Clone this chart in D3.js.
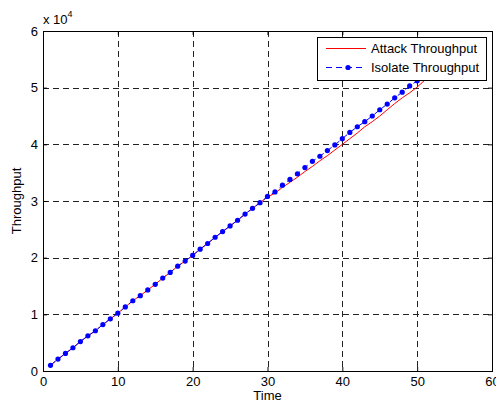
<!DOCTYPE html>
<html lang="en">
<meta charset="UTF-8">
<title>Throughput</title>
<script src="https://cdn.jsdelivr.net/npm/d3@7"></script>
<style>
  body { margin: 0; background: #fff; }
  svg { display: block; font-family: "Liberation Sans", Arial, sans-serif; }
  .grid line { stroke: #222; stroke-dasharray: 6,4; }
</style>
<body>
<svg id="chart" width="496" height="403"></svg>
<script>
// data (values in units of 1e4)
var time = d3.range(1, 52);
var attack = [0.10, 0.21, 0.31, 0.41, 0.52, 0.62, 0.71, 0.82, 0.92, 1.02,
  1.13, 1.24, 1.33, 1.43, 1.53, 1.64, 1.74, 1.85, 1.94, 2.04,
  2.15, 2.25, 2.36, 2.46, 2.56, 2.66, 2.77, 2.87, 2.97, 3.07,
  3.14, 3.24, 3.33, 3.42, 3.52, 3.61, 3.71, 3.80, 3.90, 4.00,
  4.10, 4.20, 4.31, 4.40, 4.50, 4.61, 4.72, 4.82, 4.91, 5.01, 5.13];
var isolate = [0.10, 0.21, 0.31, 0.41, 0.52, 0.62, 0.71, 0.82, 0.92, 1.02,
  1.13, 1.24, 1.33, 1.43, 1.53, 1.64, 1.74, 1.85, 1.94, 2.04,
  2.15, 2.25, 2.36, 2.46, 2.56, 2.66, 2.77, 2.87, 2.97, 3.08,
  3.16, 3.28, 3.38, 3.48, 3.59, 3.70, 3.79, 3.89, 3.99, 4.10,
  4.21, 4.31, 4.40, 4.50, 4.61, 4.71, 4.82, 4.92, 5.03, 5.12];
var xTicks = [0, 10, 20, 30, 40, 50, 60];
var yTicks = [0, 1, 2, 3, 4, 5, 6];
var seriesNames = ["Attack Throughput", "Isolate Throughput"];

var svg = d3.select("#chart");
var pLeft = 43, pRight = 492, pTop = 31, pBottom = 371;

var x = d3.scaleLinear().domain([0, 60]).range([pLeft, pRight]);
var y = d3.scaleLinear().domain([0, 6]).range([pBottom, pTop]);

// grid
var grid = svg.append("g").attr("class", "grid");
grid.selectAll("line.v").data(xTicks.slice(1, -1)).enter().append("line")
    .attr("x1", d => Math.round(x(d)) + 0.5).attr("x2", d => Math.round(x(d)) + 0.5)
    .attr("y1", pTop).attr("y2", pBottom);
grid.selectAll("line.h").data(yTicks.slice(1, -1)).enter().append("line")
    .attr("y1", d => Math.round(y(d)) + 0.5).attr("y2", d => Math.round(y(d)) + 0.5)
    .attr("x1", pLeft).attr("x2", pRight);

// axes (ticks pointing inside, box on)
svg.append("g").attr("transform", `translate(0,${pBottom})`)
    .call(d3.axisBottom(x).tickValues(xTicks).tickSize(-4).tickPadding(6).tickSizeOuter(0))
    .call(g => g.select(".domain").remove());
svg.append("g").attr("transform", `translate(0,${pTop})`)
    .call(d3.axisTop(x).tickValues(xTicks).tickSize(-4).tickFormat("").tickSizeOuter(0))
    .call(g => g.select(".domain").remove());
svg.append("g").attr("transform", `translate(${pLeft},0)`)
    .call(d3.axisLeft(y).tickValues(yTicks).tickFormat(d3.format("d")).tickSize(-4).tickPadding(5).tickSizeOuter(0))
    .call(g => g.select(".domain").remove());
svg.append("g").attr("transform", `translate(${pRight},0)`)
    .call(d3.axisRight(y).tickValues(yTicks).tickSize(-4).tickFormat("").tickSizeOuter(0))
    .call(g => g.select(".domain").remove());
svg.selectAll(".tick text").attr("font-size", 13).attr("font-family", "Liberation Sans, Arial, sans-serif").attr("fill", "#000");

svg.append("rect")
    .attr("x", pLeft + 0.5).attr("y", pTop + 0.5)
    .attr("width", pRight - pLeft).attr("height", pBottom - pTop)
    .attr("fill", "none").attr("stroke", "#000");

// series
var line = d3.line().x(d => x(d[0])).y(d => y(d[1]));
svg.append("path")
    .datum(attack.map((v, i) => [time[i], v]))
    .attr("d", line).attr("fill", "none").attr("stroke", "#ff0000").attr("stroke-width", 1);
var iso = isolate.map((v, i) => [time[i], v]);
svg.append("path")
    .datum(iso)
    .attr("d", line).attr("fill", "none").attr("stroke", "#0000ff")
    .attr("stroke-width", 1).attr("stroke-dasharray", "6,4");
svg.selectAll("circle.pt").data(iso).enter().append("circle")
    .attr("cx", d => x(d[0])).attr("cy", d => y(d[1])).attr("r", 2.6)
    .attr("fill", "#0000ff");

// exponent label
var ex = svg.append("text").attr("x", 43).attr("y", 24).attr("font-size", 13);
ex.append("tspan").text("x 10");
ex.append("tspan").attr("dy", -7).attr("font-size", 9).text("4");

// axis titles
svg.append("text").attr("x", (pLeft + pRight) / 2).attr("y", 400)
    .attr("text-anchor", "middle").attr("font-size", 13).text("Time");
svg.append("text")
    .attr("transform", `translate(21,${(pTop + pBottom) / 2}) rotate(-90)`)
    .attr("text-anchor", "middle").attr("font-size", 13).text("Throughput");

// legend
var lg = svg.append("g");
lg.append("rect").attr("x", 317.5).attr("y", 37.5).attr("width", 169).attr("height", 43)
    .attr("fill", "#fff").attr("stroke", "#000");
lg.append("line").attr("x1", 326).attr("x2", 366).attr("y1", 48.5).attr("y2", 48.5)
    .attr("stroke", "#ff0000");
lg.append("line").attr("x1", 326).attr("x2", 366).attr("y1", 67.5).attr("y2", 67.5)
    .attr("stroke", "#0000ff").attr("stroke-dasharray", "6,4");
lg.append("circle").attr("cx", 348).attr("cy", 67.5).attr("r", 2.6).attr("fill", "#0000ff");
lg.selectAll("text").data(seriesNames).enter().append("text")
    .attr("x", 371).attr("y", (d, i) => 53 + i * 19)
    .attr("font-size", 13).text(d => d);
</script>
</body>
</html>
